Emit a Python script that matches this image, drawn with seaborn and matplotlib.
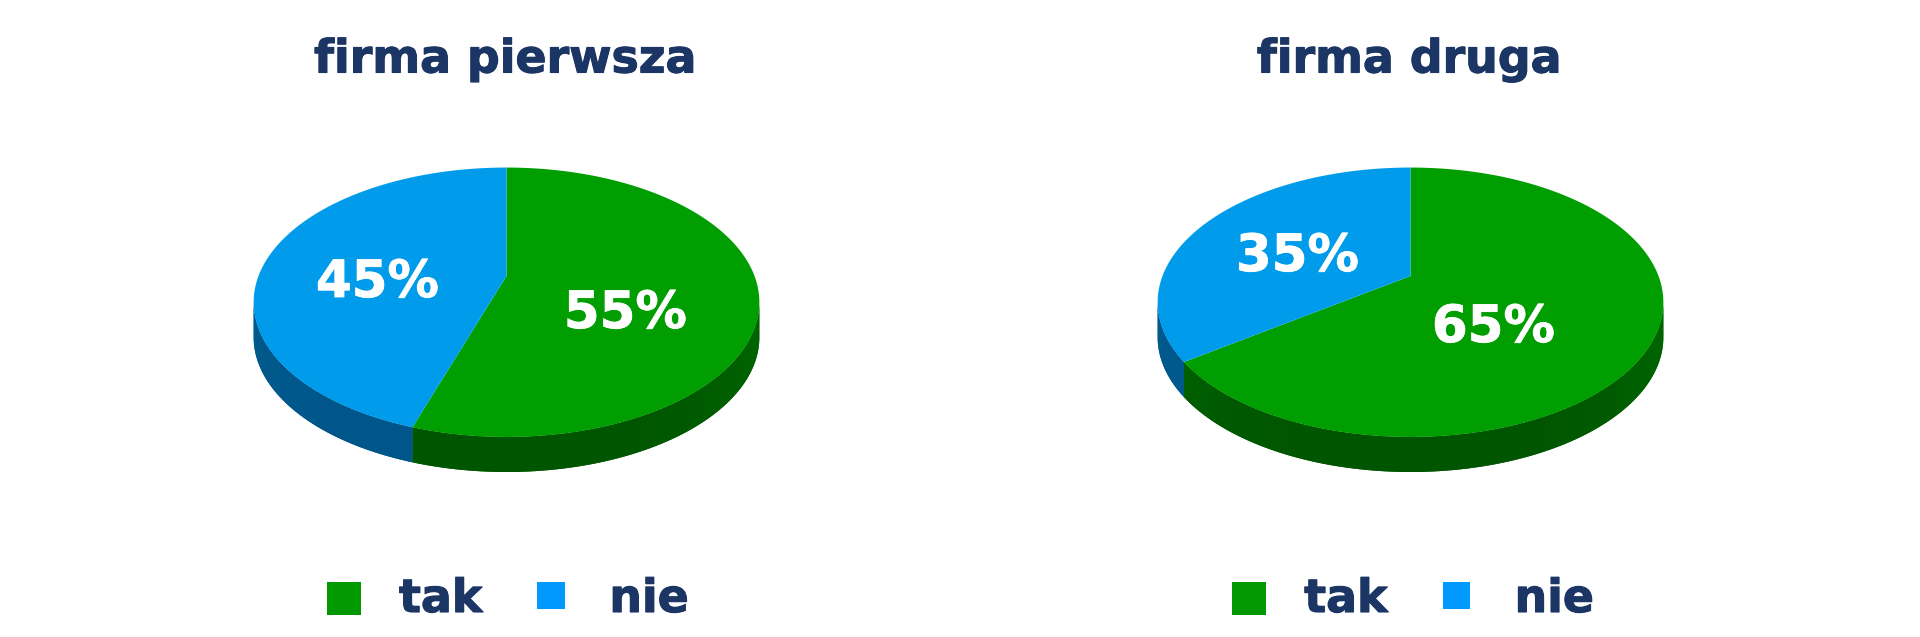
import numpy as np
import matplotlib
matplotlib.use("Agg")
import matplotlib.pyplot as plt
import matplotlib.patheffects as pe
from matplotlib.patches import Patch
from matplotlib.colors import to_rgb
import seaborn as sns

titles = ["firma pierwsza", "firma druga"]
categories = ["tak", "nie"]
values_first = [55, 45]
values_second = [65, 35]

top_colors = sns.color_palette(["#009E00", "#009CEB"])
wall_dark = ["#005500", "#00558A"]
wall_light = ["#006800", "#005A8C"]
legend_colors = ["#009900", "#0099FF"]
INK = "#1B3564"

# layout, in pixels of the 1920x637 figure
APEX_Y = 276
DISC_W, DISC_H, PERSP, DEPTH = 248.0, 129.6, 0.195, 35.0
apex_x = [506.5, 450.5]                  # inside each half-figure
label_offsets = [[(119, -38), (-129, -7)], [(83, -52), (-113, 19)]]
legend_x = [1.5, 2.7]
HEAVY = [pe.withStroke(linewidth=0.8, foreground=INK)]

sns.set_theme(style="white")
plt.rcParams["font.family"] = ["DejaVu Sans"]


def project(angle, radius=1.0):
    """Disc position (clockwise angle from the far edge) to screen pixels."""
    u, v = radius * np.sin(angle), radius * np.cos(angle)
    d = 1 + PERSP * v
    return DISC_W * u / d, DISC_H * v / d


def draw_pie(ax, values, offs):
    fractions = np.array(values, dtype=float) / sum(values)
    edges = np.concatenate([[0], np.cumsum(fractions)]) * 2 * np.pi
    # walls: the part of the rim nearer than the widest points of the ellipse
    for i in range(len(values)):
        arc = np.linspace(edges[i], edges[i + 1], 400)
        arc = arc[np.cos(arc) <= -PERSP]
        xs, ys = project(arc)
        base = 0.5 * (np.array(to_rgb(wall_dark[i])) + np.array(to_rgb(wall_light[i])))
        ax.fill(np.r_[xs, xs[::-1]], np.r_[ys, ys[::-1] - DEPTH], color=base, lw=0, zorder=1)
        idx = np.arange(0, len(arc), 8)
        idx = np.r_[idx, len(arc) - 1]
        for j0, j1 in zip(idx[:-1], idx[1:]):
            t = abs(np.sin((arc[j0] + arc[j1]) / 2)) ** 3
            c = (1 - t) * np.array(to_rgb(wall_dark[i])) + t * np.array(to_rgb(wall_light[i]))
            seg_x, seg_y = xs[j0:j1 + 1], ys[j0:j1 + 1]
            ax.fill(np.r_[seg_x, seg_x[::-1]], np.r_[seg_y, seg_y[::-1] - DEPTH],
                    color=c, lw=0, zorder=1.5)
    # top face
    for i in range(len(values)):
        arc = np.linspace(edges[i], edges[i + 1], 300)
        xs, ys = project(arc)
        ax.fill(np.r_[0, xs], np.r_[0, ys], color=top_colors[i], lw=0, zorder=2)
    for v, (dx, dy) in zip(values, offs):
        ax.text(dx, dy, f"{v}%", color="white", fontsize=37, fontweight="bold",
                ha="center", va="center", zorder=3,
                path_effects=[pe.withStroke(linewidth=0.6, foreground="white")])


fig = plt.figure(figsize=(19.2, 6.37), dpi=100, facecolor="white")
for k, (title, values) in enumerate(zip(titles, [values_first, values_second])):
    ax = fig.add_axes([k * 0.5, 0, 0.5, 1])
    ax.set_xlim(-apex_x[k], 960 - apex_x[k])
    ax.set_ylim(APEX_Y - 637, APEX_Y)
    sns.despine(ax=ax, left=True, bottom=True)
    ax.set_xticks([])
    ax.set_yticks([])
    ax.set_facecolor("none")
    draw_pie(ax, values, label_offsets[k])
    ax.text(-1, APEX_Y - 72.5, title, color=INK, fontsize=33, fontweight="bold",
            ha="center", va="baseline", path_effects=HEAVY)
    handles = [Patch(facecolor=c, edgecolor="none", label=n)
               for c, n in zip(legend_colors, categories)]
    leg = ax.legend(handles=handles, ncol=2, frameon=False,
                    loc="center", bbox_to_anchor=(legend_x[k], APEX_Y - 599.5),
                    bbox_transform=ax.transData, handlelength=0.74, handleheight=0.74,
                    handletextpad=0.83, columnspacing=1.2, borderpad=0, labelcolor=INK,
                    prop={"weight": "bold", "size": 33})
    for txt in leg.get_texts():
        txt.set_path_effects(HEAVY)
    big, small = leg.get_patches()
    w, h = small.get_width(), small.get_height()
    small.set_width(w * 0.82)
    small.set_y(small.get_y() + h * 0.18 - 2)
    small.set_height(h * 0.82)
    big.set_y(big.get_y() - 2)

fig.savefig("out.png", dpi=100, facecolor="white")
